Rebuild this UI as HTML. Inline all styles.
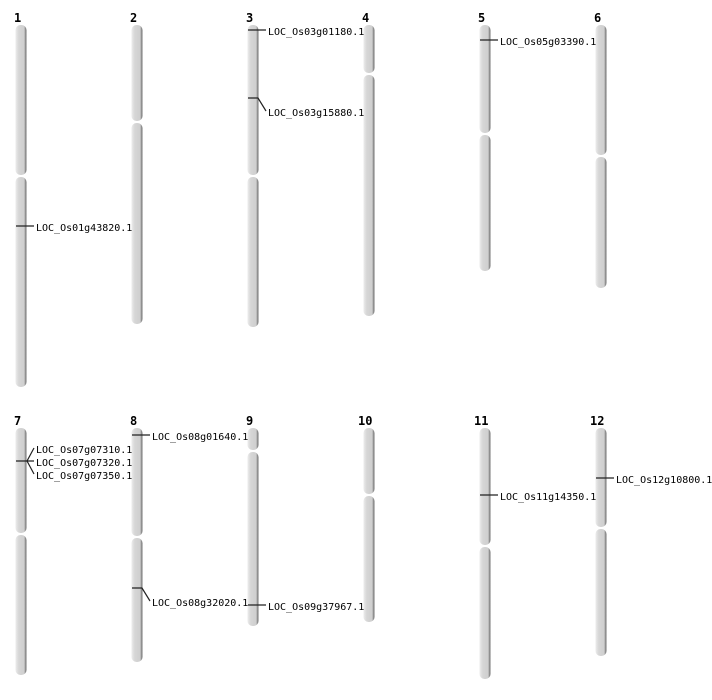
<!DOCTYPE html>
<html><head><meta charset="utf-8"><style>
html,body{margin:0;padding:0;background:#fff;}
svg{display:block;}
.n{font-family:"DejaVu Sans Mono","Liberation Mono",monospace;font-weight:bold;font-size:12px;fill:#000;}
.l{font-family:"DejaVu Sans Mono","Liberation Mono",monospace;font-size:10px;fill:#000;}
.g{stroke:#222;stroke-width:1.2;fill:none;}
</style></head><body>
<svg width="712" height="700" viewBox="0 0 712 700" xmlns="http://www.w3.org/2000/svg">
<defs>
<linearGradient id="cg" x1="0" x2="1" y1="0" y2="0">
<stop offset="0" stop-color="#ececec"/>
<stop offset="0.3" stop-color="#d6d6d6"/>
<stop offset="0.78" stop-color="#cfcfcf"/>
<stop offset="0.88" stop-color="#9a9a9a"/>
<stop offset="1" stop-color="#6e6e6e"/>
</linearGradient>
</defs>
<g fill="url(#cg)">
<!-- row 1 -->
<rect x="15.5" y="25" width="11" height="150" rx="5"/><rect x="15.5" y="177" width="11" height="210" rx="5"/>
<rect x="131.5" y="25" width="11" height="96" rx="5"/><rect x="131.5" y="123" width="11" height="201" rx="5"/>
<rect x="247.5" y="25" width="11" height="150" rx="5"/><rect x="247.5" y="177" width="11" height="150" rx="5"/>
<rect x="363.5" y="25" width="11" height="48" rx="5"/><rect x="363.5" y="75" width="11" height="241" rx="5"/>
<rect x="479.5" y="25" width="11" height="108" rx="5"/><rect x="479.5" y="135" width="11" height="136" rx="5"/>
<rect x="595.5" y="25" width="11" height="130" rx="5"/><rect x="595.5" y="157" width="11" height="131" rx="5"/>
<!-- row 2 -->
<rect x="15.5" y="428" width="11" height="105" rx="5"/><rect x="15.5" y="535" width="11" height="140" rx="5"/>
<rect x="131.5" y="428" width="11" height="108" rx="5"/><rect x="131.5" y="538" width="11" height="124" rx="5"/>
<rect x="247.5" y="428" width="11" height="22" rx="5"/><rect x="247.5" y="452" width="11" height="174" rx="5"/>
<rect x="363.5" y="428" width="11" height="66" rx="5"/><rect x="363.5" y="496" width="11" height="126" rx="5"/>
<rect x="479.5" y="428" width="11" height="117" rx="5"/><rect x="479.5" y="547" width="11" height="132" rx="5"/>
<rect x="595.5" y="428" width="11" height="99" rx="5"/><rect x="595.5" y="529" width="11" height="127" rx="5"/>
</g>
<g class="n">
<text x="14" y="22">1</text><text x="130" y="22">2</text><text x="246" y="22">3</text>
<text x="362" y="22">4</text><text x="478" y="22">5</text><text x="594" y="22">6</text>
<text x="14" y="425">7</text><text x="130" y="425">8</text><text x="246" y="425">9</text>
<text x="358" y="425">10</text><text x="474" y="425">11</text><text x="590" y="425">12</text>
</g>
<g class="g">
<path d="M16 226H34"/>
<path d="M248 30H266"/>
<path d="M248 98H258L266 111"/>
<path d="M480 40H498"/>
<path d="M16 461H27L34 448M27 461H34M27 461L34 474"/>
<path d="M132 435H150"/>
<path d="M132 588H142L150 601"/>
<path d="M248 605H266"/>
<path d="M480 495H498"/>
<path d="M596 478H614"/>
</g>
<g class="l">
<text x="36" y="231">LOC_Os01g43820.1</text>
<text x="268" y="35">LOC_Os03g01180.1</text>
<text x="268" y="116">LOC_Os03g15880.1</text>
<text x="500" y="45">LOC_Os05g03390.1</text>
<text x="36" y="453">LOC_Os07g07310.1</text>
<text x="36" y="466">LOC_Os07g07320.1</text>
<text x="36" y="479">LOC_Os07g07350.1</text>
<text x="152" y="440">LOC_Os08g01640.1</text>
<text x="152" y="606">LOC_Os08g32020.1</text>
<text x="268" y="610">LOC_Os09g37967.1</text>
<text x="500" y="500">LOC_Os11g14350.1</text>
<text x="616" y="483">LOC_Os12g10800.1</text>
</g>
</svg>
</body></html>
